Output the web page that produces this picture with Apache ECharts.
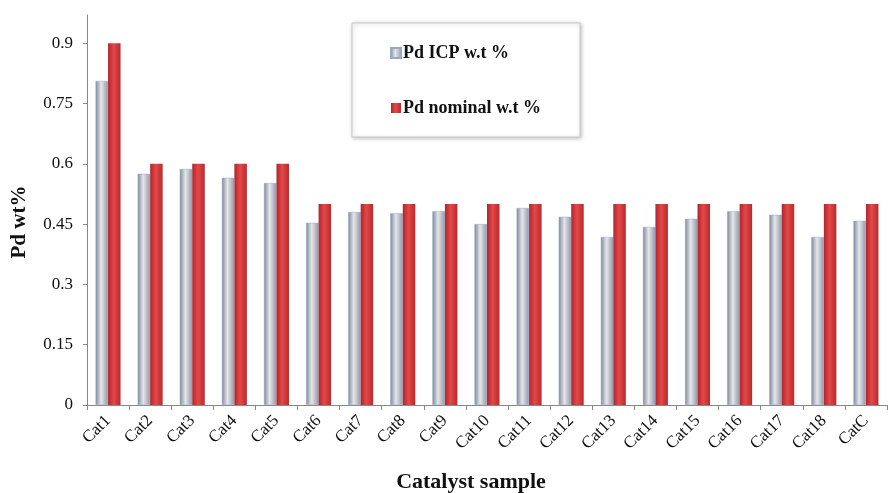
<!DOCTYPE html>
<html><head><meta charset="utf-8">
<script src="https://cdn.jsdelivr.net/npm/echarts@6/dist/echarts.min.js"></script>
<style>html,body{margin:0;padding:0;background:#fff}#c{width:891px;height:493px}</style>
</head><body><div id="c"></div>
<script>
const categories = ['Cat1','Cat2','Cat3','Cat4','Cat5','Cat6','Cat7','Cat8','Cat9','Cat10','Cat11','Cat12','Cat13','Cat14','Cat15','Cat16','Cat17','Cat18','CatC'];
const icpValues = [0.806,0.575,0.587,0.565,0.552,0.453,0.48,0.477,0.482,0.45,0.49,0.468,0.418,0.443,0.463,0.482,0.473,0.418,0.458];
const nominalValues = [0.9,0.6,0.6,0.6,0.6,0.5,0.5,0.5,0.5,0.5,0.5,0.5,0.5,0.5,0.5,0.5,0.5,0.5,0.5];
const yTicks = [0,0.15,0.3,0.45,0.6,0.75,0.9];

const serif = '"Liberation Serif","Times New Roman",serif';
const greyGrad = new echarts.graphic.LinearGradient(0,0,1,0,[
  {offset:0,color:'#7d889c'},{offset:0.45,color:'#e6e6e8'},{offset:1,color:'#8f97a8'}]);
const redGrad = new echarts.graphic.LinearGradient(0,0,1,0,[
  {offset:0,color:'#b3242a'},{offset:0.45,color:'#e34848'},{offset:1,color:'#b82a2e'}]);

const chart = echarts.init(document.getElementById('c'));
chart.setOption({
  animation:false,
  grid:{left:87,right:4,top:15,bottom:88,containLabel:false},
  legend:{
    orient:'vertical', left:352, top:23,
    padding:[21,39,20,38], itemGap:37,
    backgroundColor:'#fff', borderColor:'#c8c8c8', borderWidth:1,
    shadowColor:'rgba(0,0,0,0.25)', shadowBlur:4, shadowOffsetX:1, shadowOffsetY:1,
    itemWidth:10, itemHeight:10, icon:'rect',
    textStyle:{fontFamily:serif,fontWeight:'bold',fontSize:18,color:'#111',padding:[0,0,0,-3]},
    data:['Pd ICP w.t %','Pd nominal w.t %']
  },
  graphic:[
    {type:'text',x:471,y:482,style:{text:'Catalyst sample',font:'bold 22px '+serif,fill:'#111',textAlign:'center',textVerticalAlign:'middle'}},
    {type:'text',x:20,y:222,rotation:Math.PI/2,style:{text:'Pd wt%',font:'bold 21px '+serif,fill:'#111',textAlign:'center',textVerticalAlign:'middle'}}
  ],
  xAxis:{
    type:'category', data:categories,
    axisLine:{lineStyle:{color:'#888'}},
    axisTick:{show:true,length:5,lineStyle:{color:'#888'}},
    axisLabel:{rotate:45,fontFamily:serif,fontSize:17,color:'#111',margin:13,interval:0}
  },
  yAxis:{
    type:'value', min:0, max:0.97, interval:0.15,
    axisLine:{show:true,lineStyle:{color:'#888'}},
    axisTick:{show:true,length:4,lineStyle:{color:'#888'}},
    splitLine:{show:false},
    axisLabel:{fontFamily:serif,fontSize:17,color:'#111',margin:14,showMaxLabel:false,
      formatter:v=>{const t=yTicks.find(x=>Math.abs(x-v)<1e-6);return t===undefined?'':String(t);}}
  },
  series:[
    {name:'Pd ICP w.t %',type:'bar',data:icpValues,barWidth:12.5,barGap:'0%',
     itemStyle:{color:greyGrad,borderColor:'#9aa8c8',borderWidth:0.5}},
    {name:'Pd nominal w.t %',type:'bar',data:nominalValues,barWidth:12.5,barGap:'0%',
     itemStyle:{color:redGrad}}
  ]
});
</script></body></html>
